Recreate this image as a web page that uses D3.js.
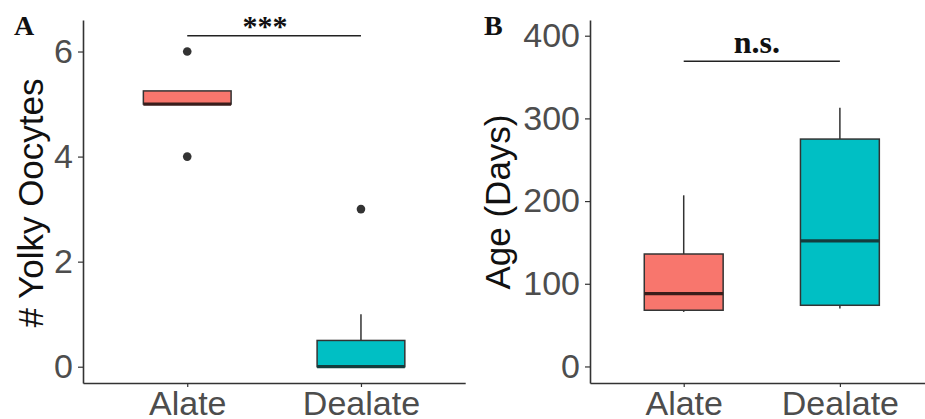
<!DOCTYPE html>
<html>
<head>
<meta charset="utf-8">
<script src="https://cdn.jsdelivr.net/npm/d3@7/dist/d3.min.js"></script>
<style>
  html, body { margin: 0; padding: 0; background: #fff; }
  svg { display: block; }
</style>
</head>
<body>
<svg id="chart" width="925" height="419"></svg>
<script>
// ---------- data ----------
const categories = ["Alate", "Dealate"];
const groupColors = ["#F8766D", "#00BFC4"];

// Panel A: # Yolky Oocytes
const oocyteQ1 = [5, 0];
const oocyteMedian = [5, 0];
const oocyteQ3 = [5.25, 0.5];
const oocyteWhiskerLow = [5, 0];
const oocyteWhiskerHigh = [5.25, 1];
const oocyteOutliers = [[6, 4], [3]];
const oocyteTicks = [0, 2, 4, 6];

// Panel B: Age (Days)
const ageQ1 = [68, 74];
const ageMedian = [88, 152];
const ageQ3 = [136, 275];
const ageWhiskerLow = [66, 70];
const ageWhiskerHigh = [207, 313];
const ageOutliers = [[], []];
const ageTicks = [0, 100, 200, 300, 400];

// significance annotations
const panelLetters = ["A", "B"];
const yTitles = ["# Yolky Oocytes", "Age (Days)"];
const sigLabels = ["***", "n.s."];
const sigLevels = [6.3, 369];

// ---------- drawing ----------
const svg = d3.select("#chart");
const sansFont = "'Liberation Sans', Arial, Helvetica, sans-serif";
const serifFont = "'Liberation Serif', 'Times New Roman', serif";

function drawPanel(cfg) {
  const g = svg.append("g");
  const x = d3.scalePoint().domain(categories).range([cfg.left, cfg.right]).padding(0.6);
  const y = d3.scaleLinear().domain(cfg.yDomain).range([383, 20]);
  const step = x.step();
  const boxW = step * 0.505;

  // y axis
  const yAxis = g.append("g")
    .attr("transform", `translate(${cfg.left},0)`)
    .call(d3.axisLeft(y).tickValues(cfg.ticks).tickFormat(d3.format("d"))
      .tickSize(5).tickSizeOuter(0).tickPadding(5));
  yAxis.select(".domain").attr("stroke", "#333").attr("stroke-width", 1.6);
  yAxis.selectAll(".tick line").attr("stroke", "#333").attr("stroke-width", 1.2);
  yAxis.selectAll(".tick text").attr("fill", "#4d4d4d")
    .style("font-family", sansFont).style("font-size", "34px");

  // x axis
  const xAxis = g.append("g")
    .attr("transform", `translate(0,383)`)
    .call(d3.axisBottom(x).tickSize(4).tickSizeOuter(0).tickPadding(4));
  xAxis.select(".domain").attr("stroke", "#333").attr("stroke-width", 1.6);
  xAxis.selectAll(".tick line").attr("stroke", "#333").attr("stroke-width", 1.2);
  xAxis.selectAll(".tick text").attr("fill", "#4d4d4d")
    .style("font-family", sansFont).style("font-size", "34px");

  // boxes
  categories.forEach((c, i) => {
    const cx = x(c);
    // whiskers
    g.append("line").attr("x1", cx).attr("x2", cx)
      .attr("y1", y(cfg.q3[i])).attr("y2", y(cfg.hi[i]))
      .attr("stroke", "#333").attr("stroke-width", 1.5);
    g.append("line").attr("x1", cx).attr("x2", cx)
      .attr("y1", y(cfg.lo[i])).attr("y2", y(cfg.q1[i]))
      .attr("stroke", "#333").attr("stroke-width", 1.5);
    // box
    g.append("rect")
      .attr("x", cx - boxW / 2).attr("width", boxW)
      .attr("y", y(cfg.q3[i])).attr("height", y(cfg.q1[i]) - y(cfg.q3[i]))
      .attr("fill", groupColors[i]).attr("stroke", "#333").attr("stroke-width", 1.5);
    // median
    g.append("line")
      .attr("x1", cx - boxW / 2).attr("x2", cx + boxW / 2)
      .attr("y1", y(cfg.med[i])).attr("y2", y(cfg.med[i]))
      .attr("stroke", i === 0 ? "#3a1d1b" : "#143c3d").attr("stroke-width", 3.2);
    // outliers
    cfg.out[i].forEach(v => {
      g.append("circle").attr("cx", cx).attr("cy", y(v)).attr("r", 4.3).attr("fill", "#333");
    });
  });

  // significance bar
  const yb = y(cfg.sigLevel);
  g.append("line").attr("x1", x(categories[0])).attr("x2", x(categories[1]))
    .attr("y1", yb).attr("y2", yb).attr("stroke", "#222").attr("stroke-width", 1.5);
  g.append("text")
    .attr("x", (x(categories[0]) + x(categories[1])) / 2 + cfg.sigDx)
    .attr("y", yb + cfg.sigDy)
    .attr("text-anchor", "middle")
    .style("font-family", serifFont).style("font-weight", "bold")
    .style("font-size", cfg.sigSize + "px").attr("fill", "#111")
    .text(cfg.sigLabel);

  // y title
  g.append("text")
    .attr("transform", `translate(${cfg.titleX},${cfg.titleY}) rotate(-90)`)
    .attr("text-anchor", "middle")
    .style("font-family", sansFont).style("font-size", "35px").attr("fill", "#111")
    .text(cfg.title);

  // panel letter
  g.append("text")
    .attr("x", cfg.letterX).attr("y", 35)
    .style("font-family", serifFont).style("font-weight", "bold")
    .style("font-size", "28px").attr("fill", "#111")
    .text(cfg.letter);
}

drawPanel({
  left: 83, right: 465.2, yDomain: [-0.31, 6.6], ticks: oocyteTicks,
  q1: oocyteQ1, med: oocyteMedian, q3: oocyteQ3, lo: oocyteWhiskerLow, hi: oocyteWhiskerHigh,
  out: oocyteOutliers, sigLevel: sigLevels[0], sigLabel: sigLabels[0], sigDx: -9, sigDy: 0, sigSize: 30,
  title: yTitles[0], titleX: 43, titleY: 203, letter: panelLetters[0], letterX: 14
});

drawPanel({
  left: 590, right: 933.6, yDomain: [-20, 419], ticks: ageTicks,
  q1: ageQ1, med: ageMedian, q3: ageQ3, lo: ageWhiskerLow, hi: ageWhiskerHigh,
  out: ageOutliers, sigLevel: sigLevels[1], sigLabel: sigLabels[1], sigDx: -5, sigDy: -8, sigSize: 32,
  title: yTitles[1], titleX: 510, titleY: 202, letter: panelLetters[1], letterX: 484
});
</script>
</body>
</html>
